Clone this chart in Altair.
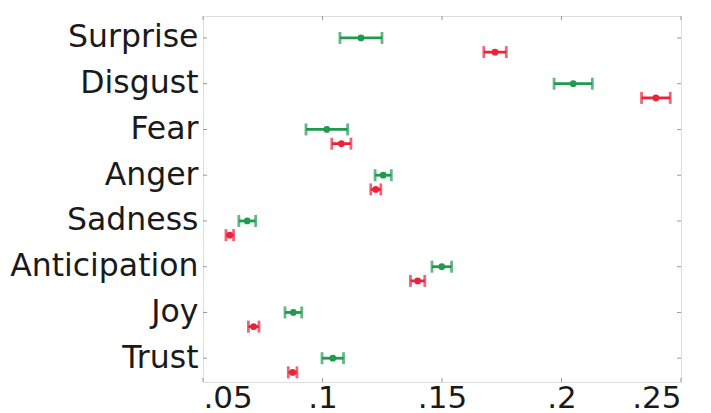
import json
import altair as alt
import pandas as pd

categories = ["Surprise", "Disgust", "Fear", "Anger", "Sadness", "Anticipation", "Joy", "Trust"]
green_mean = [0.1161, 0.2049, 0.1018, 0.1254, 0.0685, 0.1499, 0.0878, 0.1043]
green_err = [0.0088, 0.0080, 0.0087, 0.0034, 0.0035, 0.0041, 0.0035, 0.0045]
red_mean = [0.1722, 0.2395, 0.1079, 0.1223, 0.0612, 0.1398, 0.0712, 0.0875]
red_err = [0.0047, 0.0060, 0.0040, 0.0021, 0.0016, 0.0030, 0.0022, 0.0018]
x_ticks = [0.05, 0.10, 0.15, 0.20, 0.25]

rows = []
for i, c in enumerate(categories):
    rows.append({"cat": c, "idx": i, "series": "green", "mean": green_mean[i], "err": green_err[i]})
    rows.append({"cat": c, "idx": i, "series": "red", "mean": red_mean[i], "err": red_err[i]})
df = pd.DataFrame(rows)

W, H = 478, 366
FS = 31.5
xscale = alt.Scale(domain=[0.05, 0.25], nice=False, zero=False)
yscale = alt.Scale(domain=[-0.48, 7.52], reverse=True, nice=False, zero=False)
color = alt.Color("series:N", scale=alt.Scale(domain=["green", "red"], range=["#1f9a4e", "#e8243a"]), legend=None)

base = alt.Chart(df).transform_calculate(
    y="datum.series == 'red' ? datum.idx + 0.31 : datum.idx",
    lo="datum.mean - datum.err",
    hi="datum.mean + datum.err",
)

label_expr = json.dumps(categories) + "[datum.value]"

x_axis = alt.Axis(values=x_ticks, labelExpr="slice(format(datum.value, '.2~f'), 1)",
                  labelFontSize=31, labelFont="DejaVu Sans", labelColor="#1a1a1a",
                  domain=False, ticks=False, grid=False, labelPadding=1, title=None)
y_axis = alt.Axis(values=list(range(len(categories))), labelExpr=label_expr,
                  labelFontSize=FS, labelFont="DejaVu Sans", labelColor="#1a1a1a", labelLimit=0,
                  domain=False, ticks=False, grid=False, labelPadding=5, title=None)

bars = base.mark_rule(strokeWidth=2.8).encode(
    x=alt.X("lo:Q", scale=xscale, axis=x_axis),
    x2="hi:Q",
    y=alt.Y("y:Q", scale=yscale, axis=y_axis),
    color=color,
)
caps_lo = base.mark_tick(orient="vertical", size=12, thickness=2.8).encode(
    x=alt.X("lo:Q", scale=xscale), y=alt.Y("y:Q", scale=yscale), color=color)
caps_hi = base.mark_tick(orient="vertical", size=12, thickness=2.8).encode(
    x=alt.X("hi:Q", scale=xscale), y=alt.Y("y:Q", scale=yscale), color=color)
points = base.mark_circle(size=45, opacity=1).encode(
    x=alt.X("mean:Q", scale=xscale), y=alt.Y("y:Q", scale=yscale), color=color)

# inward tick marks (matplotlib style)
xt = pd.DataFrame({"v": x_ticks})
yt = pd.DataFrame({"v": list(range(len(categories)))})
tick_color = "#999999"
xt_bottom = alt.Chart(xt).mark_rule(color=tick_color, strokeWidth=1).encode(
    x=alt.X("v:Q", scale=xscale), y=alt.value(H), y2=alt.value(H - 4))
xt_top = alt.Chart(xt).mark_rule(color=tick_color, strokeWidth=1).encode(
    x=alt.X("v:Q", scale=xscale), y=alt.value(0), y2=alt.value(4))
yt_left = alt.Chart(yt).mark_rule(color=tick_color, strokeWidth=1).encode(
    y=alt.Y("v:Q", scale=yscale), x=alt.value(0), x2=alt.value(4))
yt_right = alt.Chart(yt).mark_rule(color=tick_color, strokeWidth=1).encode(
    y=alt.Y("v:Q", scale=yscale), x=alt.value(W), x2=alt.value(W - 4))

chart = alt.layer(xt_bottom, xt_top, yt_left, yt_right, bars, caps_lo, caps_hi, points).properties(
    width=W, height=H,
    autosize=alt.AutoSizeParams(type="none"),
    padding={"left": 195, "top": 8, "right": 22, "bottom": 42},
).configure_view(stroke="#888888", strokeWidth=1.5).configure(background="white")

chart.save("out.html", embed_options={"renderer": "svg", "actions": False})
